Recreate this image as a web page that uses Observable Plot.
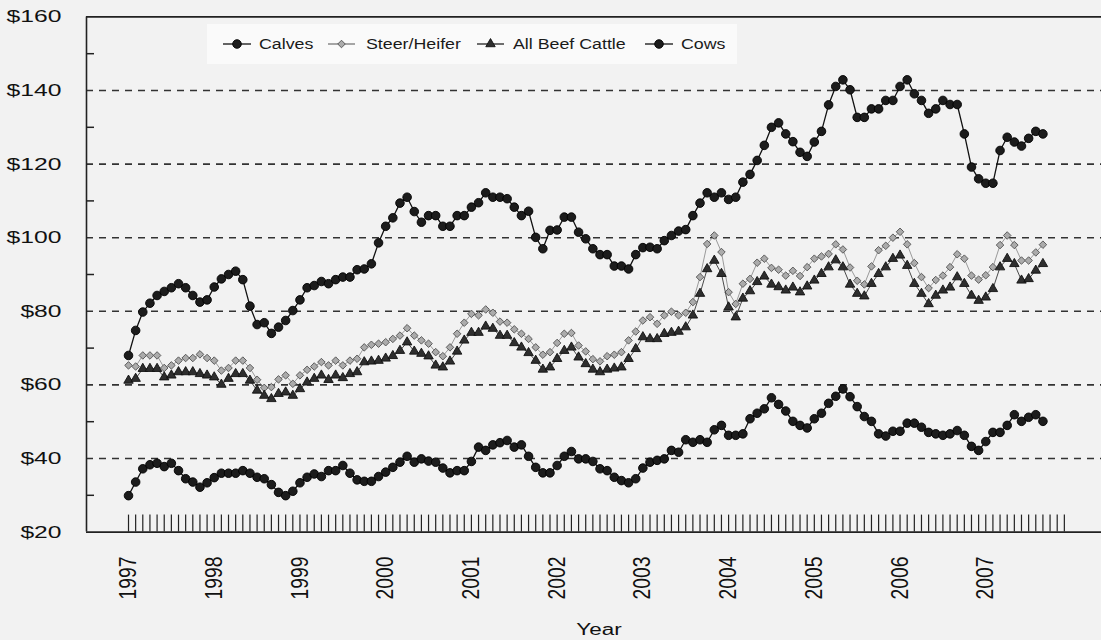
<!DOCTYPE html>
<html><head><meta charset="utf-8">
<script src="https://cdn.jsdelivr.net/npm/d3@7"></script>
<script src="https://cdn.jsdelivr.net/npm/@observablehq/plot@0.6"></script>
<style>
html,body{margin:0;padding:0;background:#f2f2f2;}
#chart{position:relative;width:1101px;height:640px;overflow:hidden;}
</style></head><body><div id="chart"></div>
<script>
// ---- data ----
const yearLabels = ["1997","1998","1999","2000","2001","2002","2003","2004","2005","2006","2007"];
const monthTickCount = 132; // monthly ticks Jan 1997 .. Dec 2007
const seriesNames = ["Calves", "Steer/Heifer", "All Beef Cattle", "Cows"];
const yTicks = [20, 40, 60, 80, 100, 120, 140, 160];
const yMinorTicks = [30, 50, 70, 90, 110, 130, 150];
const gridValues = [40, 60, 80, 100, 120, 140];

const calves = [68,74.8,79.8,82.2,84.3,85.4,86.4,87.5,86.4,84.3,82.5,83.1,
86.6,88.8,90,90.9,88.6,81.4,76.4,76.9,74.0,75.7,77.5,80.2,
83.1,86.4,87.0,88.1,87.5,88.6,89.3,89.3,91.3,91.5,92.9,98.6,
103.1,105.4,109.4,111.0,107.1,104.2,106,106,103.1,103.1,106,106,
108.3,109.5,112.2,111,111,110.6,108.3,106,107.2,100.1,97,102,
102.1,105.6,105.6,101.5,99.7,97,95.4,95.4,92.3,92.3,91.5,95.4,
97.3,97.4,97,99.2,100.6,101.8,102.2,106,109.4,112.2,111,112.2,
110.4,111,115.1,117.2,121,125.1,130,131.2,128.2,126.1,123.2,122.1,
126,128.9,136.1,141.1,142.9,140.2,132.7,132.7,135,135,137.3,137.3,
141.1,142.9,139.1,137.3,133.8,135,137.3,136.2,136.2,128.2,119.2,116,
114.8,114.8,123.7,127.3,126,124.9,127,128.9,128.2];

const steerHeifer = [65.3,65.0,68,68,68,64.6,65.3,66.6,67.3,67.3,68.3,67.3,
66.6,63.9,64.6,66.6,66.6,64.6,61.4,59.2,59.4,61.5,62.6,60.3,
62.6,64.1,65,66.2,65.3,66.6,65.3,66.6,67.1,70.2,70.9,71.2,
71.6,72.5,73.4,75.4,73.4,72.1,71.2,68.9,67.8,70.2,73.9,76.9,
79.3,78.9,80.5,79.6,77.2,76.9,75.1,73.9,72.5,70.2,68.2,68.9,
71.4,73.9,74.1,70.7,69.1,67,66.4,67.8,68.2,68.9,72.1,74.5,
77.5,78.4,76.6,78.9,79.9,78.9,79.6,82.5,89.3,98.3,100.6,96.1,
85.2,82,87.5,88.8,93.2,94.3,91.8,91.3,89.7,91,89.6,92,
94.3,94.9,95.6,98.2,96.8,91.9,88.3,87.3,92.2,96.6,97.8,100,
101.6,98.2,93.1,89.3,86.3,88.5,89.7,92,95.5,94.3,89.7,88.6,
89.8,92,98,100.6,98,93.8,93.8,96,98.1];

const allBeefCattle = [61.2,61.7,64.4,64.4,64.4,62.1,62.6,63.5,63.5,63.5,63,62.6,
62.1,60.1,61.7,63,63,61.2,58.5,57.1,56.2,57.6,58,57.1,
58.9,60.7,61.7,62.6,61.4,62.6,61.9,63,63.5,66.2,66.4,66.6,
67.2,67.9,69.3,71.6,69.1,68.5,67.8,65.3,64.8,66.4,69.1,72.1,
74.2,74.2,75.9,75.3,73.4,73.4,71.4,70.2,68.7,66.6,64.2,64.8,
67.1,69.3,70.2,67.5,65.7,64.2,63.5,64.2,64.5,64.8,67.1,69.8,
73,72.5,72.5,73.9,74.2,74.5,75.7,78.9,84.8,91.5,93.8,90.2,
81.1,78.4,83.5,85.5,88,89.5,87.3,86.6,85.7,86.5,85.2,86.8,
88.4,90.2,92,93.9,92,87.3,84.8,84.1,87.5,90.2,92,94.3,
95.2,92.4,87.5,84.8,82,84.3,85.7,86.5,89.3,87.5,84.3,82.9,
83.8,86.1,92,94.3,92.9,88.4,88.8,91.1,92.9];

const cows = [29.9,33.6,37.2,38.3,38.7,37.8,38.7,36.7,34.5,33.6,32.2,33.4,
34.8,36,36,36,36.7,36,34.9,34.5,32.9,30.8,29.9,31.1,
33.4,34.9,35.8,35.1,36.7,36.7,38.1,36,34.2,33.8,33.8,35.1,
36.3,37.6,39,40.6,39,39.9,39.3,39,37.4,36.1,36.7,36.7,
39.2,43.1,42.2,43.7,44.3,44.9,43.1,43.7,40.6,37.6,36.1,36.1,
38.1,40.6,41.9,39.9,39.9,39.2,37.2,36.7,34.9,34,33.4,34.5,
37.4,39,39.5,39.9,42.2,41.7,45.1,44.4,45.1,44.4,47.8,49,
46.3,46.3,46.7,50.8,52.3,53.5,56.5,54.7,52.9,50.1,49,48.3,
50.8,52.3,55,56.9,58.9,56.8,54.1,51.4,50.1,46.7,46.1,47.4,
47.4,49.6,49.6,48.5,47.1,46.7,46.3,46.7,47.6,46.3,43.3,42.2,
44.6,47.1,47.1,49,51.9,50.1,51.2,51.9,50.1];

// ---- styling per series ----
const styles = [
  {name: seriesNames[0], values: calves, symbol: "circle", r: 4.3, fill: "#1c1c1c", stroke: "#000", line: "#111", legendLine: "#111", lw: 1.3},
  {name: seriesNames[1], values: steerHeifer, symbol: "diamond2", r: 3.4, fill: "#ababab", stroke: "#505050", line: "#9a9a9a", legendLine: "#777", lw: 1},
  {name: seriesNames[2], values: allBeefCattle, symbol: "triangle", r: 3.5, fill: "#2e2e2e", stroke: "#111", line: "#4a4a4a", legendLine: "#222", lw: 1},
  {name: seriesNames[3], values: cows, symbol: "circle", r: 4.3, fill: "#1c1c1c", stroke: "#000", line: "#111", legendLine: "#111", lw: 1.3}
];

const xDomain = [-5.88, 136.2];
const fontFamily = "'Liberation Sans', Arial, sans-serif";

const seriesMarks = styles.flatMap(s => {
  const rows = s.values.map((v, i) => ({i, v}));
  return [
    Plot.line(rows, {x: "i", y: "v", stroke: s.line, strokeWidth: s.lw}),
    Plot.dot(rows, {x: "i", y: "v", symbol: s.symbol, r: s.r, fill: s.fill, stroke: s.stroke, strokeWidth: 0.9})
  ];
});

const plot = Plot.plot({
  width: 1101, height: 640,
  marginLeft: 86, marginRight: 0, marginTop: 16.4, marginBottom: 108.4,
  style: {background: "#f2f2f2", fontFamily, color: "#111", overflow: "visible"},
  x: {domain: xDomain},
  y: {domain: [20, 160]},
  marks: [
    Plot.ruleY(gridValues, {stroke: "#333", strokeWidth: 1.6, strokeDasharray: "7,6"}),
    Plot.ruleY([160], {stroke: "#222", strokeWidth: 1.6}),
    Plot.ruleY([20], {stroke: "#222", strokeWidth: 1.6}),
    Plot.ruleX([xDomain[0]], {stroke: "#222", strokeWidth: 1.6}),
    Plot.axisY(yTicks, {tickSize: 0, tickPadding: 25, tickFormat: d => "$" + d, fontSize: 17, label: null}),
    Plot.axisY(yMinorTicks, {tickSize: -8, tickFormat: () => "", label: null, stroke: "#222", strokeWidth: 1.5}),
    Plot.axisX(d3.range(monthTickCount), {tickSize: -17, tickFormat: () => "", label: null, stroke: "#222", strokeWidth: 1.2}),
    ...seriesMarks
  ]
});

document.getElementById("chart").appendChild(plot);

// stretch y-axis texts to mimic the reference's wide lettering
plot.querySelectorAll('g[aria-label="y-axis tick label"] text').forEach(t => {
  if (!t.textContent) return;
  const L = t.getComputedTextLength();
  t.setAttribute("textLength", (L * 1.45).toFixed(1));
  t.setAttribute("lengthAdjust", "spacingAndGlyphs");
});

const svg = d3.select(plot);
const xs = plot.scale("x"), ys = plot.scale("y");

// rotated year labels placed through the x scale
const yrBase = ys.apply(20) + 25;
const yg = svg.append("g").attr("font-family", fontFamily).attr("font-size", 23).attr("fill", "#111").attr("text-anchor", "end");
yearLabels.forEach((lab, k) => {
  yg.append("text")
    .attr("transform", `translate(${xs.apply(k * 12)},${yrBase}) rotate(-90)`)
    .attr("dy", "0.35em")
    .attr("textLength", 43).attr("lengthAdjust", "spacingAndGlyphs")
    .text(lab);
});

// legend inside the plot area
const lg = svg.append("g").attr("font-family", fontFamily).attr("font-size", 14).attr("fill", "#1a1a1a").attr("text-anchor", "start");
lg.append("rect").attr("x", 207).attr("y", 24).attr("width", 530).attr("height", 40).attr("fill", "#fafafa");
const legendPos = [
  {x0: 223, x1: 251, tx: 259},
  {x0: 328, x1: 355, tx: 366},
  {x0: 477, x1: 504, tx: 513},
  {x0: 645, x1: 673, tx: 681}
];
const symbolMap = {circle: d3.symbolCircle, diamond2: d3.symbolDiamond2, triangle: d3.symbolTriangle};
styles.forEach((s, k) => {
  const p = legendPos[k];
  const cy = 44;
  lg.append("line").attr("x1", p.x0).attr("x2", p.x1).attr("y1", cy).attr("y2", cy)
    .attr("stroke", s.legendLine).attr("stroke-width", 1.3);
  lg.append("path").attr("d", d3.symbol(symbolMap[s.symbol], Math.PI * s.r * s.r)())
    .attr("transform", `translate(${(p.x0 + p.x1) / 2},${cy})`)
    .attr("fill", s.fill).attr("stroke", s.stroke).attr("stroke-width", 0.9);
  const t = lg.append("text").attr("x", p.tx).attr("y", cy + 5).text(s.name);
  const L = t.node().getComputedTextLength();
  t.attr("textLength", (L * 1.27).toFixed(1)).attr("lengthAdjust", "spacingAndGlyphs");
});

// axis title
const yt = svg.append("text").attr("x", 599).attr("y", 635).attr("text-anchor", "middle")
  .attr("font-family", fontFamily).attr("font-size", 16).attr("fill", "#111").text("Year");
const yl = yt.node().getComputedTextLength();
yt.attr("textLength", (yl * 1.4).toFixed(1)).attr("lengthAdjust", "spacingAndGlyphs");
</script></body></html>
